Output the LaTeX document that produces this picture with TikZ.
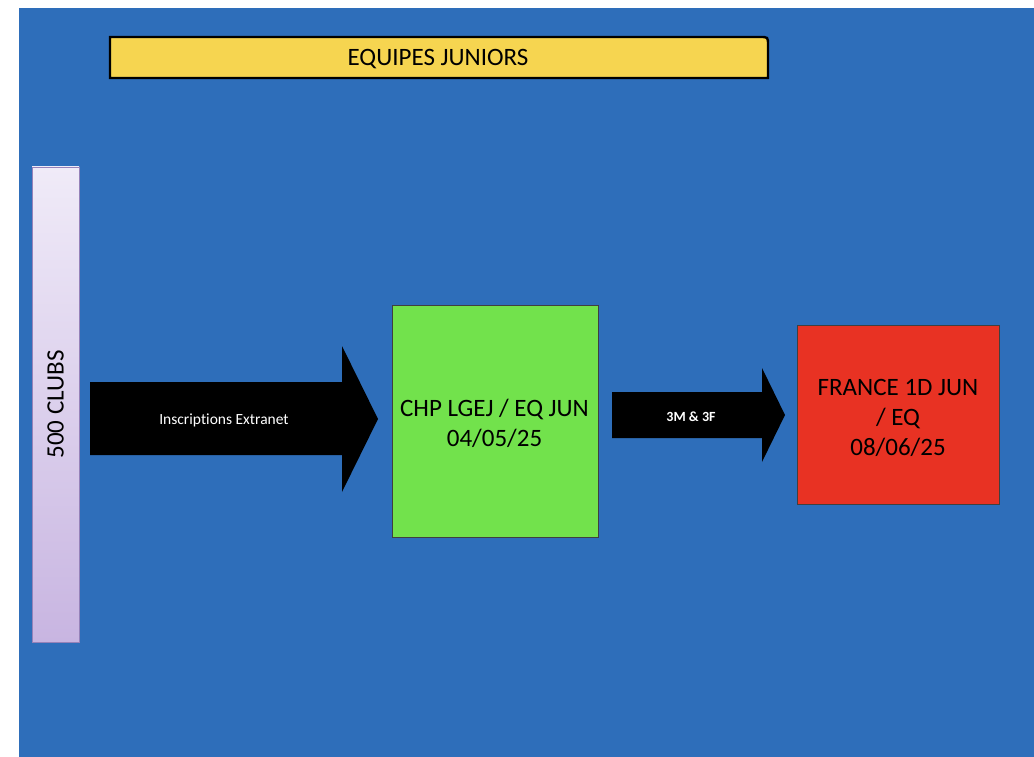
\documentclass[tikz,border=0pt]{standalone}
\usepackage{fontspec}
\setmainfont{Carlito}[Ligatures=NoCommon]
\usetikzlibrary{shadows}
\definecolor{bg}{RGB}{46,110,186}
\definecolor{ban}{RGB}{246,213,80}
\definecolor{grn}{RGB}{114,226,76}
\definecolor{redb}{RGB}{232,50,35}
\definecolor{lavtop}{RGB}{240,235,248}
\definecolor{lavbot}{RGB}{200,181,225}
\definecolor{lavedge}{RGB}{150,130,185}
\tikzset{
  box/.style={rectangle, draw=black!75, line width=0.8pt, inner sep=0pt,
    align=center,
    drop shadow={shadow xshift=1.2pt, shadow yshift=-1.2pt, opacity=0.35}},
  boxtext/.style={align=center, inner sep=0pt, font=\fontsize{25}{30}\selectfont},
  blockarrow/.style={fill=black},
  arrowlabel/.style={text=white, inner sep=0pt}
}
\begin{document}
\begin{tikzpicture}[x=1pt,y=-1pt]
\useasboundingbox (0,0) rectangle (1034,757);
\fill[white] (0,0) rectangle (1034,757);
\fill[bg] (19,8) rectangle (1034,757);
% banner
\draw[fill=ban, line width=2.4pt] (110,78) -- (110,37) -- (760,37) .. controls (768,37) .. (768,45) -- (768,78) -- cycle;
\node[inner sep=0pt, font=\fontsize{25}{28}\selectfont] (title) at (438,59.5) {EQUIPES JUNIORS};
% clubs bar
\node[rectangle, draw=lavedge, line width=0.8pt, top color=lavtop, bottom color=lavbot,
  minimum width=47pt, minimum height=475pt, inner sep=0pt] (clubs) at (55.5,404.5) {};
\node[rotate=90, inner sep=0pt, font=\fontsize{25}{30}\selectfont] (clubstxt) at (clubs.center) {500 CLUBS};
% green box
\node[box, fill=grn, minimum width=206pt, minimum height=232pt] (chp) at (495,421) {};
\node[boxtext] (chptxt) at (494.5,423.5) {CHP LGEJ / EQ JUN\\04/05/25};
% red box
\node[box, fill=redb, minimum width=202pt, minimum height=179pt] (fra) at (898,414.5) {};
\node[boxtext] (fratxt) at (898,417.5) {FRANCE 1D JUN\\/ EQ\\08/06/25};
% arrows
\fill[blockarrow] (90,382) -- (342,382) -- (342,346) -- (378,419) -- (342,492) -- (342,455) -- (90,455) -- cycle;
\node[arrowlabel, font=\fontsize{15.5}{18}\selectfont] (a1) at (224,420) {Inscriptions Extranet};
\fill[blockarrow] (612,392) -- (762,392) -- (762,368) -- (785,415) -- (762,462) -- (762,438) -- (612,438) -- cycle;
\node[arrowlabel, font=\bfseries\fontsize{14}{18}\selectfont] (a2) at (691,417) {3M \& 3F};
\end{tikzpicture}
\end{document}
